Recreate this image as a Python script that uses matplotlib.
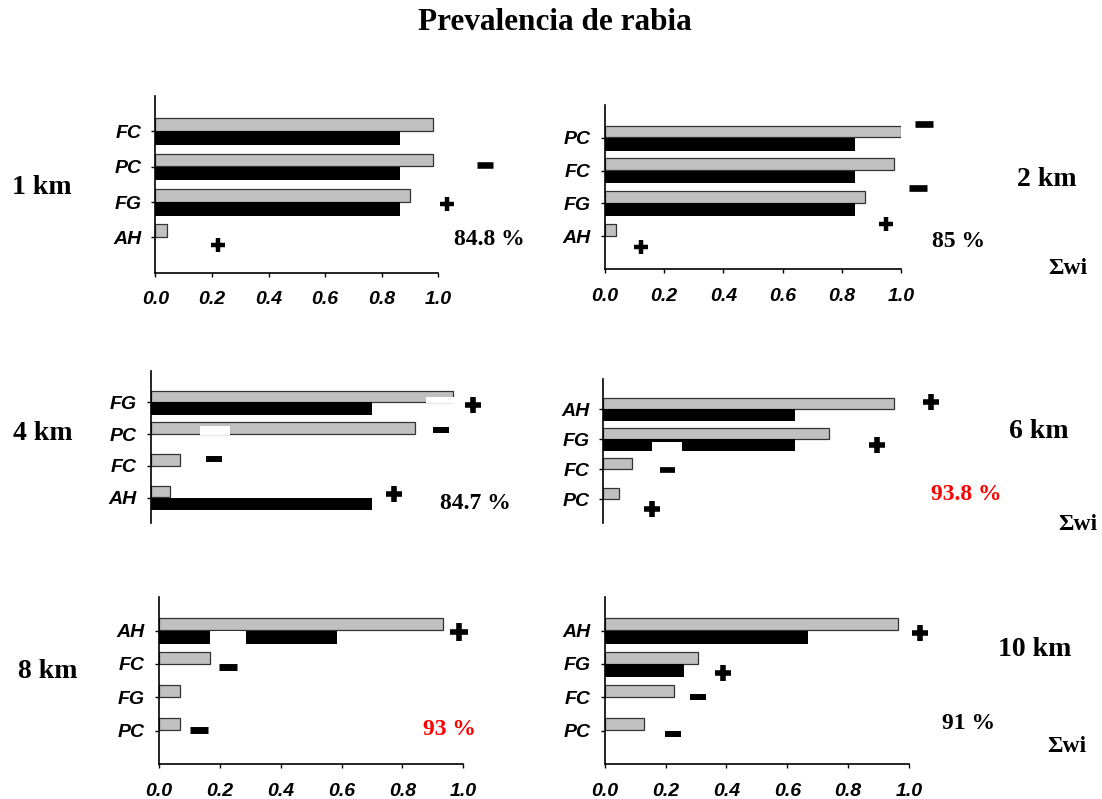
import matplotlib
matplotlib.use("Agg")
import matplotlib.pyplot as plt
from matplotlib.patches import Rectangle

W, H = 1102, 799
fig = plt.figure(figsize=(W / 100, H / 100), dpi=100)

# ---- data: relative importance (Σwi) per variable and distance ----
cats_1km = ["FC", "PC", "FG", "AH"]
gray_1km = [0.98, 0.98, 0.90, 0.04]
black_1km = [0.865, 0.865, 0.865, 0.0]
sign_1km = ["-", "+", "+"]
signx_1km = [1.164, 1.03, 0.223]
signy_1km = [3.05, 1.93, 0.79]

cats_2km = ["PC", "FC", "FG", "AH"]
gray_2km = [1.0, 0.977, 0.879, 0.037]
black_2km = [0.845, 0.845, 0.845, 0.0]
sign_2km = ["-", "-", "+", "+"]
signx_2km = [1.079, 1.056, 0.951, 0.121]
signy_2km = [4.42, 2.47, 1.37, 0.66]

cats_4km = ["FG", "PC", "FC", "AH"]
gray_4km = [0.995, 0.87, 0.096, 0.063]
black_4km = [0.727, 0.0, 0.0, 0.727]
sign_4km = ["+", "-", "-", "+"]
signx_4km = [1.061, 0.956, 0.208, 0.80]
signy_4km = [3.92, 3.13, 2.22, 1.12]

cats_6km = ["AH", "FG", "FC", "PC"]
gray_6km = [0.957, 0.741, 0.095, 0.053]
black_6km = [0.63, 0.63, 0.0, 0.0]
sign_6km = ["+", "+", "-", "+"]
signx_6km = [1.077, 0.901, 0.211, 0.16]
signy_6km = [4.25, 2.81, 1.98, 0.67]

cats_8km = ["AH", "FC", "FG", "PC"]
gray_8km = [0.932, 0.168, 0.069, 0.069]
black_8km = [0.584, 0.0, 0.0, 0.0]
sign_8km = ["+", "-", "-"]
signx_8km = [0.986, 0.226, 0.133]
signy_8km = [3.97, 2.9, 1.02]

cats_10km = ["AH", "FG", "FC", "PC"]
gray_10km = [0.965, 0.306, 0.228, 0.130]
black_10km = [0.667, 0.261, 0.0, 0.0]
sign_10km = ["+", "+", "-", "-"]
signx_10km = [1.036, 0.388, 0.308, 0.223]
signy_10km = [3.94, 2.74, 2.0, 0.9]

xticks = [0.0, 0.2, 0.4, 0.6, 0.8, 1.0]

TICK_FONT = dict(family="Liberation Sans", weight="bold", style="italic", size=14)
SERIF = "Liberation Serif"


def px(x, y):
    return x / W, 1 - y / H


def panel(x0, ppu, ytop, ybot, cats, gray, black, signs, sx, sy,
          xaxis=True, spine_low=0.0, plus=(12.5, 3.4), minus=(12.0, 4.6),
          masks=()):
    ax = fig.add_axes([x0 / W, 1 - ybot / H, ppu / W, (ybot - ytop) / H])
    ax.set_xlim(0, 1)
    ax.set_ylim(0, 5)
    slots = [4, 3, 2, 1]
    for yv, g, b in zip(slots, gray, black):
        if g > 0:
            ax.barh(yv + 0.01, g, height=0.36, align="edge",
                    color="#c0c0c0", edgecolor="#333333", linewidth=0.9)
        if b > 0:
            ax.barh(yv - 0.39, b, height=0.39, align="edge",
                    color="black", edgecolor="none")
    for (mx0, mx1, my0, my1) in masks:
        ax.add_patch(Rectangle((mx0, my0), mx1 - mx0, my1 - my0,
                               facecolor="white", edgecolor="none", zorder=3))
    for t, xv, yv in zip(signs, sx, sy):
        if t == "+":
            ax.plot(xv, yv, marker="+", ms=plus[0], mew=plus[1],
                    color="black", clip_on=False, zorder=4)
        else:
            ax.plot(xv, yv, marker="_", ms=minus[0], mew=minus[1],
                    color="black", clip_on=False, zorder=4)
    ax.set_yticks(slots)
    ax.set_yticklabels(cats, fontdict=TICK_FONT)
    ax.tick_params(axis="y", length=3, width=1, pad=7)
    for s in ("top", "right"):
        ax.spines[s].set_visible(False)
    ax.spines["left"].set_linewidth(1.2)
    ax.spines["left"].set_bounds(spine_low, 5)
    if xaxis:
        ax.set_xticks(xticks)
        ax.set_xticklabels([f"{v:.1f}" for v in xticks], fontdict=TICK_FONT)
        ax.tick_params(axis="x", length=3, width=1, pad=10.5)
        ax.spines["bottom"].set_linewidth(1.2)
    else:
        ax.spines["bottom"].set_visible(False)
        ax.set_xticks([])
    ax.patch.set_alpha(0)
    return ax


panel(155.3, 283, 96, 272.7, cats_1km, gray_1km, black_1km,
      sign_1km, signx_1km, signy_1km, plus=(9.7, 3.2), minus=(11.5, 4.7))
panel(605, 296, 105, 269, cats_2km, gray_2km, black_2km,
      sign_2km, signx_2km, signy_2km, plus=(9.8, 3.2), minus=(12.5, 4.8))
panel(150.7, 304, 370.5, 529.5, cats_4km, gray_4km, black_4km,
      sign_4km, signx_4km, signy_4km, xaxis=False, spine_low=0.2,
      plus=(12.2, 4.0), minus=(11.2, 4.3),
      masks=[(0.906, 1.0, 3.99, 4.18), (0.162, 0.261, 2.98, 3.26)])
panel(603.3, 304, 379.3, 529.3, cats_6km, gray_6km, black_6km,
      sign_6km, signx_6km, signy_6km, xaxis=False, spine_low=0.2,
      plus=(12.2, 4.0), minus=(10.8, 4.1),
      masks=[(0.16, 0.259, 2.58, 2.92)])
panel(159, 304.3, 597.3, 764, cats_8km, gray_8km, black_8km,
      sign_8km, signx_8km, signy_8km, plus=(12.5, 4.0), minus=(13.0, 5.0),
      masks=[(0.168, 0.286, 3.58, 4.0)])
panel(604.7, 304.3, 597.3, 764, cats_10km, gray_10km, black_10km,
      sign_10km, signx_10km, signy_10km, plus=(12.0, 4.0), minus=(11.0, 4.3))

# ---- titles and annotations ----
fig.text(*px(555, 23), "Prevalencia de rabia", family=SERIF, weight="bold",
         size=22.5, ha="center", va="center")

km_labels = [("1 km", 42, 188), ("2 km", 1046.7, 179), ("4 km", 43, 433),
             ("6 km", 1039, 432), ("8 km", 48, 672), ("10 km", 1034.7, 650)]
for txt, x, y in km_labels:
    fig.text(*px(x, y), txt, family=SERIF, weight="bold", size=20,
             ha="center", va="center")

pct_labels = [("84.8 %", 489.5, 239.5, "black"), ("85 %", 959, 241.7, "black"),
              ("84.7 %", 475.3, 503.3, "black"), ("93.8 %", 966, 495, "red"),
              ("93 %", 449.3, 729.3, "red"), ("91 %", 968.8, 723.3, "black")]
for txt, x, y, c in pct_labels:
    fig.text(*px(x, y), txt, family=SERIF, weight="bold", size=17,
             color=c, ha="center", va="center")

for x, y in [(1067.7, 268.3), (1077.5, 525), (1067, 746.7)]:
    fig.text(*px(x, y), "Σwi", family=SERIF, weight="bold", size=17,
             ha="center", va="center")

fig.savefig("out.png", dpi=100)
